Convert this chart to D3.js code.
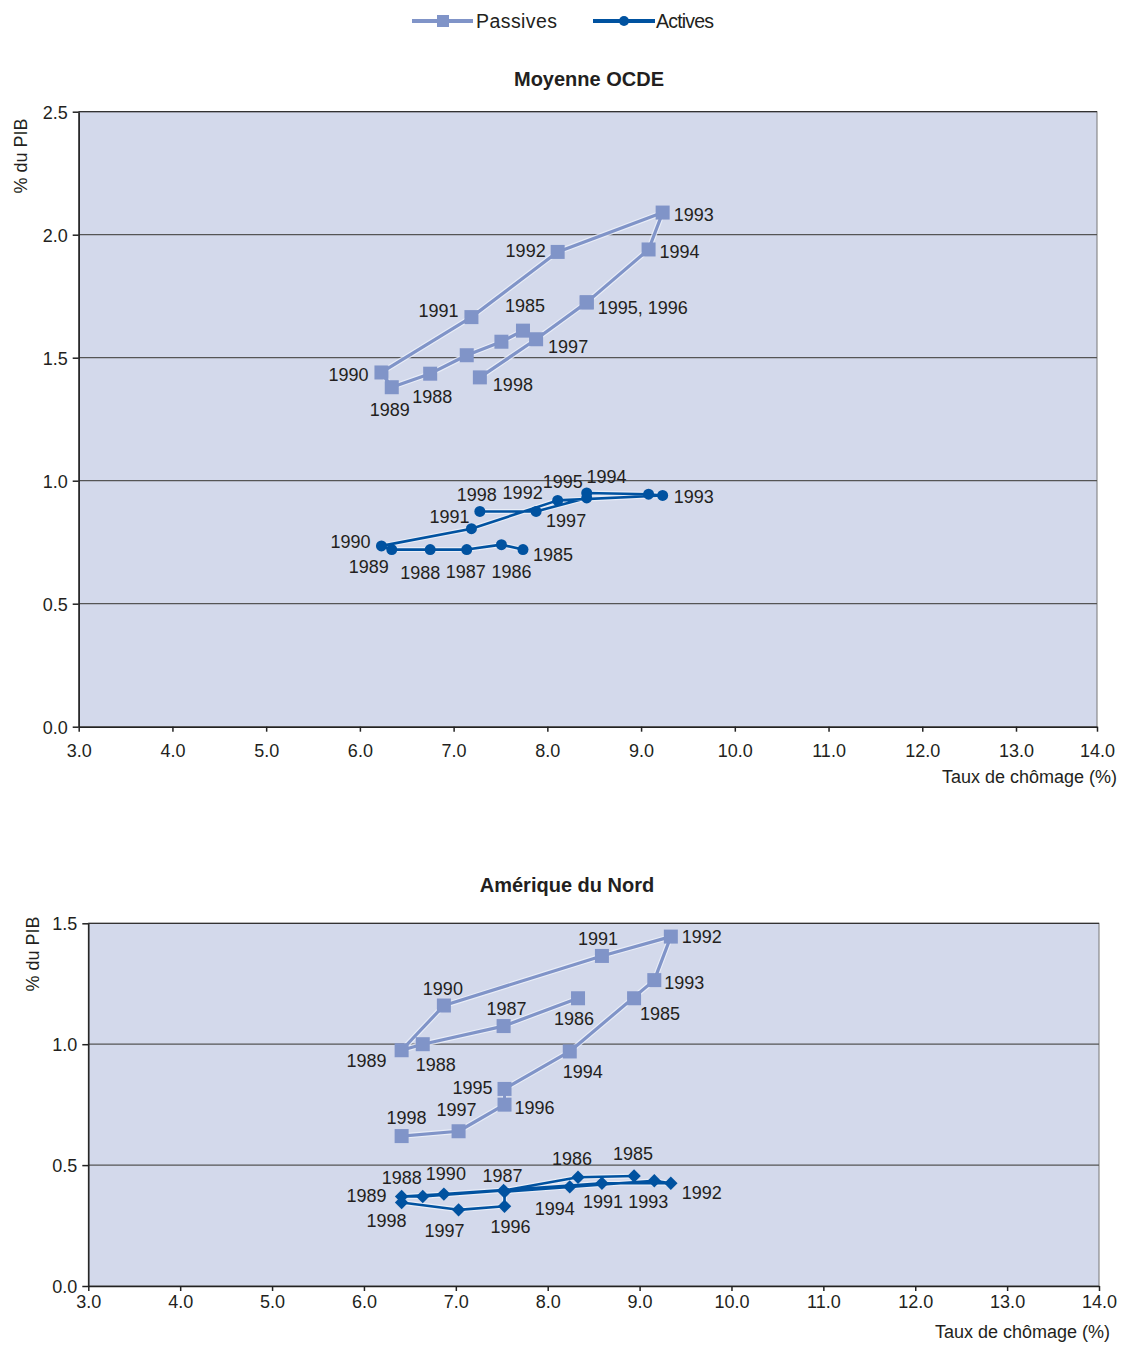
<!DOCTYPE html>
<html><head><meta charset="utf-8">
<script src="https://cdn.jsdelivr.net/npm/d3@7/dist/d3.min.js"></script>
<style>
html,body{margin:0;padding:0;background:#fff;}
text{font-family:"Liberation Sans",Arial,sans-serif;fill:#231f20;}
</style></head>
<body>
<svg id="chart" width="1126" height="1345"></svg>
<script>
// ---------- DATA ----------
const years = [1985,1986,1987,1988,1989,1990,1991,1992,1993,1994,1995,1996,1997,1998];

// Moyenne OCDE
const oecdUnemployment = [7.74,7.51,7.14,6.75,6.34,6.23,7.19,8.11,9.23,9.08,8.42,8.42,7.88,7.28];
const oecdPassives     = [1.61,1.565,1.51,1.435,1.38,1.44,1.665,1.93,2.09,1.94,1.725,1.725,1.575,1.42];
const oecdActives      = [0.72,0.74,0.72,0.72,0.72,0.735,0.805,0.92,0.94,0.945,0.95,0.93,0.875,0.875];

// Amérique du Nord
const naUnemployment = [8.94,8.33,7.52,6.64,6.41,6.87,8.59,9.34,9.16,8.24,7.53,7.53,7.03,6.41];
const naPassives     = [1.19,1.19,1.075,1.0,0.975,1.16,1.365,1.445,1.265,0.97,0.815,0.75,0.64,0.62];
const naActives      = [0.455,0.45,0.395,0.37,0.37,0.38,0.425,0.425,0.435,0.41,0.39,0.33,0.315,0.345];

const xTicks = [3,4,5,6,7,8,9,10,11,12,13,14];
const yTicksTop = [0,0.5,1.0,1.5,2.0,2.5];
const yTicksBottom = [0,0.5,1.0,1.5];

const seriesNames = ["Passives","Actives"];
const chartTitles = ["Moyenne OCDE","Amérique du Nord"];
const yTitle = "% du PIB";
const xTitle = "Taux de chômage (%)";

// ---------- LABEL LAYOUT (anchor, dx, dy) ----------
const labOecdPass = {
  1985:["middle",2,-19],1988:["middle",2,29],1989:["middle",-2,29],1990:["end",-13,9],
  1991:["end",-13,0],1992:["end",-12,5],1993:["start",11,8],1994:["start",11,9],
  1995:["start",11,12,"1995, 1996"],1997:["start",12,14],1998:["start",13,14]
};
const labOecdAct = {
  1985:["start",10,11],1986:["middle",10,33],1987:["middle",-1,28],1988:["middle",-10,29],
  1989:["end",-3,23],1990:["end",-11,2],1991:["end",-2,-6],1992:["end",-15,-1],
  1993:["start",11,8],1994:["middle",-42,-11],1995:["end",-4,-5],1997:["start",10,16],1998:["middle",-3,-10]
};
const labNaPass = {
  1985:["start",6,22],1986:["middle",-4,27],1987:["middle",3,-11],1988:["middle",13,27],
  1989:["end",-15,17],1990:["middle",-1,-11],1991:["middle",-4,-11],1992:["start",11,6],
  1993:["start",10,9],1994:["middle",13,27],1995:["end",-12,5],1996:["start",10,9],
  1997:["middle",-2,-15],1998:["middle",5,-12]
};
const labNaAct = {
  1985:["middle",-1,-16],1986:["middle",-6,-12],1987:["middle",-1,-8],1988:["middle",-21,-13],
  1989:["end",-15,5],1990:["middle",2,-14],1991:["middle",1,25],1992:["start",11,16],
  1993:["middle",-6,27],1994:["middle",-15,28],1996:["middle",6,27],1997:["middle",-14,27],1998:["middle",-15,24]
};

// ---------- STYLE ----------
const colPass = "#8094c8";
const colAct = "#0052a0";
const plotBg = "#d3d9eb";
const fontSize = 18;

const svg = d3.select("#chart");

// Legend
const lg = svg.append("g");
lg.append("line").attr("x1",412).attr("x2",473).attr("y1",21).attr("y2",21)
  .attr("stroke",colPass).attr("stroke-width",4);
lg.append("rect").attr("x",437).attr("y",15).attr("width",12).attr("height",12).attr("fill",colPass);
lg.append("text").attr("x",476).attr("y",28).attr("font-size",19.5).attr("textLength",81).text(seriesNames[0]);
lg.append("line").attr("x1",593).attr("x2",655).attr("y1",21).attr("y2",21)
  .attr("stroke",colAct).attr("stroke-width",4);
lg.append("circle").attr("cx",624).attr("cy",21).attr("r",5).attr("fill",colAct);
lg.append("text").attr("x",656).attr("y",28).attr("font-size",19.5).attr("textLength",58).text(seriesNames[1]);

function drawChart(cfg){
  const {x, y, yTicks, title, titleX, titleY, yTitleX, yTitleY, xTitleX, xTitleY, tickLabelY,
         unemp, pass, act, labP, labA, actShape, passBreakAfter} = cfg;
  const g = svg.append("g");
  const x0 = x(3), x1 = x(14), y0 = y(0), y1 = y(yTicks[yTicks.length-1]);

  g.append("rect").attr("x",x0).attr("y",y1).attr("width",x1-x0).attr("height",y0-y1)
    .attr("fill",plotBg).attr("stroke","#777").attr("stroke-width",1);

  // gridlines
  g.selectAll(".grid").data(yTicks.filter(v=>v>0)).enter().append("line")
    .attr("x1",x0).attr("x2",x1).attr("y1",d=>y(d)).attr("y2",d=>y(d))
    .attr("stroke",d=>d===yTicks[yTicks.length-1]?"#333":"#555").attr("stroke-width",1.2);

  // axes
  const xAxis = d3.axisBottom(x).tickValues(xTicks).tickFormat(d3.format(".1f")).tickSize(5).tickSizeOuter(0);
  const gx = g.append("g").attr("transform",`translate(0,${y0})`).call(xAxis);
  gx.select(".domain").attr("stroke","#222").attr("stroke-width",1.5);
  gx.selectAll(".tick line").attr("stroke","#222").attr("stroke-width",1.5);
  gx.selectAll(".tick text").attr("font-size",fontSize).attr("font-family","Liberation Sans, Arial, sans-serif")
    .attr("fill","#231f20").attr("dy","0").attr("y",tickLabelY - y0);

  const yAxis = d3.axisLeft(y).tickValues(yTicks).tickFormat(d3.format(".1f")).tickSize(6).tickSizeOuter(0);
  const gy = g.append("g").attr("transform",`translate(${x0},0)`).call(yAxis);
  gy.select(".domain").attr("stroke","#222").attr("stroke-width",1.5);
  gy.selectAll(".tick line").attr("stroke","#222").attr("stroke-width",1.5);
  gy.selectAll(".tick text").attr("font-size",fontSize).attr("font-family","Liberation Sans, Arial, sans-serif")
    .attr("fill","#231f20").attr("x",-11).attr("dy","0.36em");

  // titles
  g.append("text").attr("x",titleX).attr("y",titleY).attr("text-anchor","middle")
    .attr("font-size",20).attr("font-weight","bold").text(title);
  g.append("text").attr("transform",`translate(${yTitleX},${yTitleY}) rotate(-90)`)
    .attr("text-anchor","middle").attr("font-size",fontSize).text(yTitle);
  g.append("text").attr("x",xTitleX).attr("y",xTitleY).attr("text-anchor","end")
    .attr("font-size",fontSize).text(xTitle);

  const ptsP = years.map((yr,i)=>({yr, x:unemp[i], v:pass[i], i}));
  const ptsA = years.map((yr,i)=>({yr, x:unemp[i], v:act[i], i}));
  const line = d3.line().x(d=>x(d.x)).y(d=>y(d.v));

  // passives line (optionally broken)
  const passSegs = passBreakAfter==null ? [ptsP] :
    [ptsP.filter(d=>d.yr<=passBreakAfter), ptsP.filter(d=>d.yr>passBreakAfter)];
  passSegs.forEach(seg=>{
    g.append("path").attr("d",line(seg)).attr("fill","none").attr("stroke","#eef1fa")
      .attr("stroke-width",5.5).attr("stroke-linejoin","round").attr("opacity",0.8);
    g.append("path").attr("d",line(seg)).attr("fill","none").attr("stroke",colPass)
      .attr("stroke-width",3.2).attr("stroke-linejoin","round");
  });
  g.selectAll(".sq").data(ptsP).enter().append("rect")
    .attr("x",d=>x(d.x)-7).attr("y",d=>y(d.v)-7).attr("width",14).attr("height",14).attr("fill",colPass);

  // actives line
  g.append("path").attr("d",line(ptsA)).attr("fill","none").attr("stroke","#eef1fa")
    .attr("stroke-width",5).attr("stroke-linejoin","round").attr("opacity",0.8);
  g.append("path").attr("d",line(ptsA)).attr("fill","none").attr("stroke",colAct)
    .attr("stroke-width",2.6).attr("stroke-linejoin","round");
  if(actShape==="circle"){
    g.selectAll(".ci").data(ptsA).enter().append("circle")
      .attr("cx",d=>x(d.x)).attr("cy",d=>y(d.v)).attr("r",5.5).attr("fill",colAct);
  } else {
    g.selectAll(".di").data(ptsA).enter().append("path")
      .attr("d",d3.symbol().type(d3.symbolSquare).size(90)())
      .attr("transform",d=>`translate(${x(d.x)},${y(d.v)}) rotate(45)`)
      .attr("fill",colAct);
  }

  // labels
  function labels(pts, lab){
    pts.forEach(d=>{
      const L = lab[d.yr]; if(!L) return;
      g.append("text").attr("x",x(d.x)+L[1]).attr("y",y(d.v)+L[2]).attr("text-anchor",L[0])
        .attr("font-size",fontSize).text(L[3]||String(d.yr));
    });
  }
  labels(ptsP, labP);
  labels(ptsA, labA);
}

drawChart({
  x: d3.scaleLinear().domain([3,13,14]).range([78.7,1016,1097]),
  y: d3.scaleLinear().domain([0,2.5]).range([726.7,111.7]),
  yTicks: yTicksTop, title: chartTitles[0], titleX:589, titleY:86,
  yTitleX:27, yTitleY:156, xTitleX:1117, xTitleY:783, tickLabelY:757,
  unemp: oecdUnemployment, pass: oecdPassives, act: oecdActives,
  labP: labOecdPass, labA: labOecdAct, actShape:"circle", passBreakAfter:null
});
drawChart({
  x: d3.scaleLinear().domain([3,14]).range([88.3,1099]),
  y: d3.scaleLinear().domain([0,1.5]).range([1286,923.3]),
  yTicks: yTicksBottom, title: chartTitles[1], titleX:567, titleY:892,
  yTitleX:39, yTitleY:954, xTitleX:1110, xTitleY:1338, tickLabelY:1308,
  unemp: naUnemployment, pass: naPassives, act: naActives,
  labP: labNaPass, labA: labNaAct, actShape:"diamond", passBreakAfter:1985
});
</script>
</body></html>
